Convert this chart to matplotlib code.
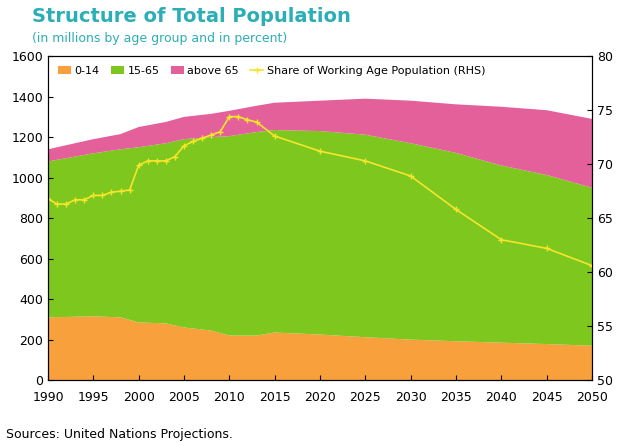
import numpy as np
import matplotlib.pyplot as plt

years = [1990, 1995, 1998, 2000, 2003, 2005, 2008, 2010, 2013, 2015, 2020, 2025, 2030, 2035, 2040, 2045, 2050]
age_0_14 = [310, 315, 310, 285, 280, 260, 245, 220, 220, 235, 225, 212, 200, 192, 185, 178, 170]
age_15_65 = [770, 805, 830, 865, 890, 930, 955, 985, 1005, 1000, 1005, 1000, 970, 930, 875, 835, 780]
above_65 = [60, 70, 75, 100, 105, 110, 115, 125, 130, 135, 150, 178, 210, 240, 290, 320, 340]

share_years = [1990, 1991, 1992, 1993, 1994, 1995, 1996, 1997, 1998, 1999, 2000, 2001, 2002,
               2003, 2004, 2005, 2006, 2007, 2008, 2009, 2010, 2011, 2012, 2013, 2015,
               2020, 2025, 2030, 2035, 2040, 2045, 2050]
share = [66.8, 66.3, 66.3, 66.7, 66.7, 67.1, 67.1, 67.4, 67.5, 67.6, 69.9, 70.3, 70.3,
         70.3, 70.7, 71.7, 72.1, 72.4, 72.7, 73.0, 74.4, 74.4, 74.1, 73.9, 72.6,
         71.2, 70.3, 68.9, 65.8, 63.0, 62.2, 60.6]

fig = plt.figure(figsize=(6.4, 4.42), dpi=100)
ax = fig.add_axes([0.075, 0.14, 0.85, 0.733])
ax.stackplot(years, age_0_14, age_15_65, above_65,
             colors=['#F7A03C', '#7DC71F', '#E3609A'],
             labels=['0-14', '15-65', 'above 65'])
ax.set_xlim(1990, 2050)
ax.set_ylim(0, 1600)
ax.set_xticks(range(1990, 2051, 5))
ax.set_yticks(range(0, 1601, 200))
ax.tick_params(labelsize=9, direction='in')
ax.tick_params(axis='x', pad=8)

ax2 = ax.twinx()
ax2.plot(share_years, share, color='#F5E62A', marker='+', markersize=5, lw=1.2,
         label='Share of Working Age Population (RHS)')
ax2.set_ylim(50, 80)
ax2.set_yticks(range(50, 81, 5))
ax2.tick_params(labelsize=9, direction='in')

h1, l1 = ax.get_legend_handles_labels()
h2, l2 = ax2.get_legend_handles_labels()
ax.legend(h1 + h2, l1 + l2, loc='upper left', ncol=4, frameon=False, fontsize=8,
          handlelength=1.2, columnspacing=1.0, handletextpad=0.3)

fig.text(0.05, 0.95, 'Structure of Total Population', color='#2BAEB5',
         fontsize=14, fontweight='bold')
fig.text(0.05, 0.905, '(in millions by age group and in percent)', color='#2BAEB5', fontsize=9)
fig.text(0.01, 0.01, 'Sources: United Nations Projections.', fontsize=9)

fig.savefig('out.png')
